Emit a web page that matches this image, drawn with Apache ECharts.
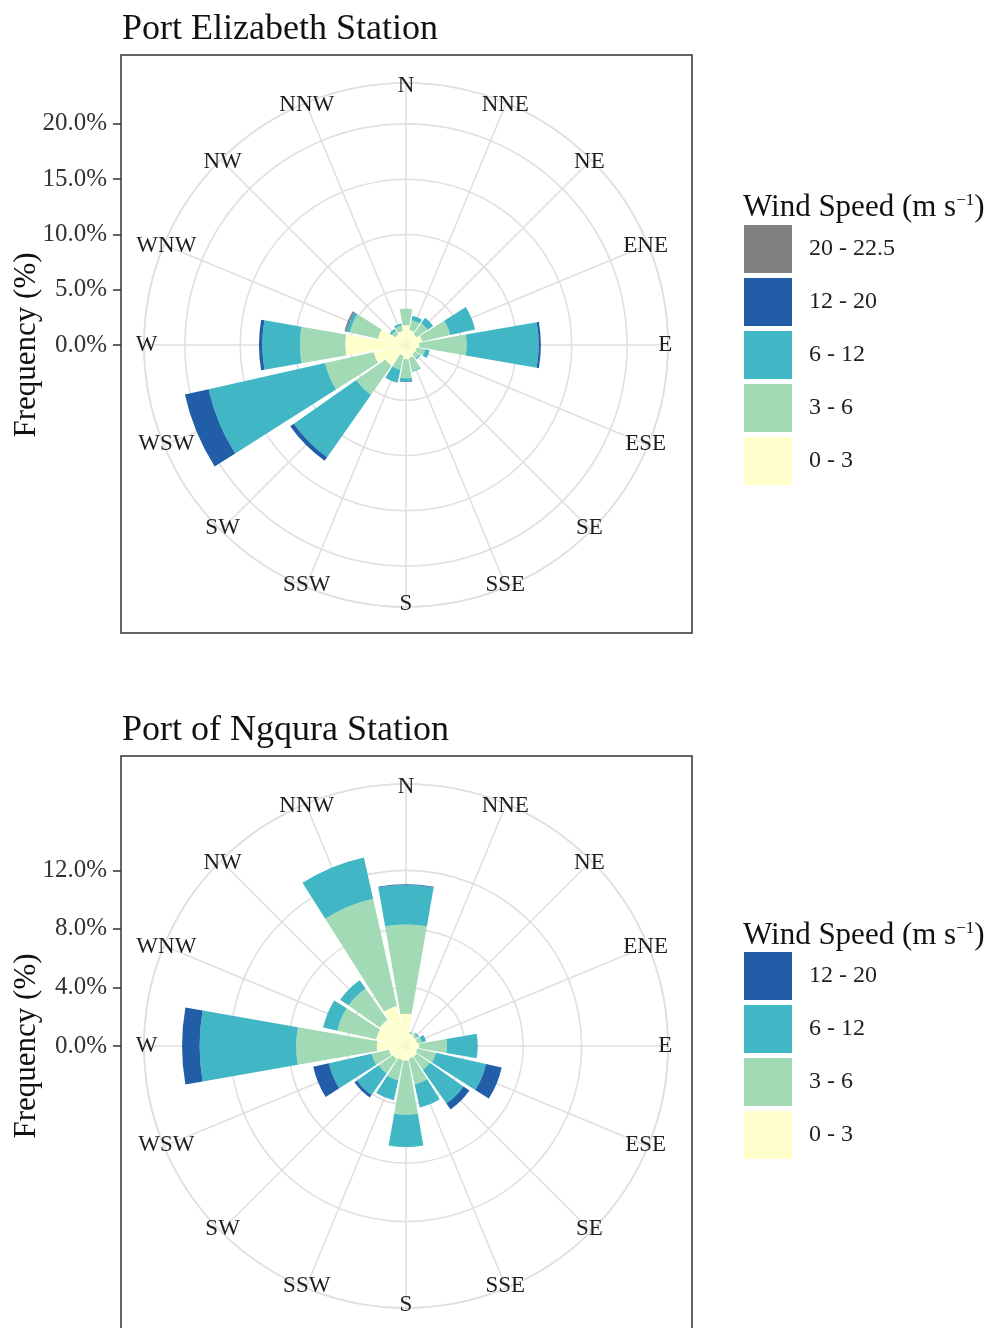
<!DOCTYPE html>
<html><head><meta charset="utf-8">
<script src="https://cdn.jsdelivr.net/npm/echarts@6/dist/echarts.min.js"></script>
<style>html,body{margin:0;padding:0;background:#fff}#c{width:992px;height:1328px}</style>
</head><body><div id="c"></div>
<script>
// ---------- data ----------
const directions = ['N','NNE','NE','ENE','E','ESE','SE','SSE','S','SSW','SW','WSW','W','WNW','NW','NNW'];
const speedBins  = ['0 - 3','3 - 6','6 - 12','12 - 20','20 - 22.5'];

// Port Elizabeth Station (frequency %, per speed bin, N..NNW)
const pe_0_3    = [1.8,1.4,1.2,1.5,1.2,1.0,1.0,1.2,1.3,1.0,2.3,3.0,5.5,2.6,1.2,1.3];
const pe_3_6    = [1.5,0.9,1.2,2.6,4.3,0.8,0.5,1.2,1.7,1.3,3.2,4.5,4.1,2.6,0.4,0.5];
const pe_6_12   = [0.0,0.4,0.6,2.3,6.5,0.4,0.1,0.1,0.3,1.2,6.9,10.8,3.4,0.3,0.2,0.2];
const pe_12_20  = [0,0,0,0,0.2,0,0,0,0.05,0,0.4,2.2,0.3,0.05,0,0];
const pe_20_225 = [0,0,0,0,0,0,0,0,0,0,0,0,0,0.15,0,0];
const peTicks   = [0,5,10,15,20];

// Port of Ngqura Station
const ng_0_3    = [2.2,0.9,0.8,0.8,0.9,0.8,0.9,0.9,1.0,1.0,1.1,1.2,2.0,2.1,2.2,2.8];
const ng_3_6    = [6.1,0.1,0.2,0.3,1.9,1.3,1.1,1.8,3.7,1.4,1.2,1.2,5.5,2.7,2.6,7.5];
const ng_6_12   = [2.7,0.0,0.1,0.3,2.1,3.5,2.8,1.6,2.2,1.4,1.8,3.0,6.6,1.0,0.7,2.9];
const ng_12_20  = [0.05,0,0,0,0,1.1,0.5,0,0,0,0.2,1.1,1.2,0,0,0];
const ngTicks   = [0,4,8,12];

// ---------- style ----------
const FONT = "'Liberation Serif','Times New Roman',serif";
const binColors = ['#FFFFCC','#A1DAB4','#41B6C4','#225EA8','#808080'];
const GRID = '#e0e0e0';
const R = 262;

const plots = [
  {title:'Port Elizabeth Station', cx:406, cy:345, rMax:23.7, ticks:peTicks,
   series:[pe_0_3,pe_3_6,pe_6_12,pe_12_20,pe_20_225], frameTop:55, titleTop:12, legTop:225, legTitleTop:192},
  {title:'Port of Ngqura Station', cx:406, cy:1046, rMax:17.9, ticks:ngTicks,
   series:[ng_0_3,ng_3_6,ng_6_12,ng_12_20], frameTop:756, titleTop:713, legTop:952, legTitleTop:920}
];

const option = {
  animation:false, backgroundColor:'#fff',
  title:[], polar:[], angleAxis:[], radiusAxis:[], grid:[], xAxis:[], yAxis:[], legend:[], series:[], graphic:[]
};

plots.forEach((p, i) => {
  const step = p.ticks[1]-p.ticks[0];
  const tMax = p.ticks[p.ticks.length-1];
  const pxPer = R / p.rMax;
  const circleTicks = [];
  for (let v = 0; v <= p.rMax + 1e-9; v += step) circleTicks.push(v);
  if (circleTicks[circleTicks.length-1] < p.rMax) circleTicks.push(p.rMax);
  const circleColors = circleTicks.map(v => (v <= tMax + 1e-9 || Math.abs(v - p.rMax) < 1e-6) ? GRID : 'rgba(0,0,0,0)');

  option.title.push({text:p.title, left:122, top:p.titleTop, padding:0,
    textStyle:{fontFamily:FONT, fontSize:36, fontWeight:'normal', color:'#111'}});
  option.title.push({text:'{a|Wind Speed (m s}{b|\u22121}{a|)}', left:743, top:p.legTitleTop, padding:0,
    textStyle:{fontWeight:'normal', fontFamily:FONT, fontSize:31,
      rich:{a:{fontFamily:FONT, fontSize:31, fontWeight:'normal', color:'#111'},
            b:{fontFamily:FONT, fontSize:17, fontWeight:'normal', color:'#111', verticalAlign:'top'}}}});

  option.polar.push({center:[p.cx,p.cy], radius:R});
  option.polar.push({center:[p.cx,p.cy], radius:R});
  option.angleAxis.push({polarIndex:2*i, type:'category', data:directions, startAngle:90+11.25, clockwise:true,
    boundaryGap:true,
    axisLine:{show:true, lineStyle:{color:GRID, width:1.6}},
    axisTick:{show:false}, splitLine:{show:false}, splitArea:{show:false}, axisLabel:{show:false}});
  option.angleAxis.push({polarIndex:2*i+1, type:'value', min:0, max:360, interval:22.5, startAngle:90, clockwise:true,
    axisLine:{show:false}, axisTick:{show:false}, axisLabel:{show:false},
    splitLine:{show:true, lineStyle:{color:GRID, width:1.6}}});
  option.radiusAxis.push({polarIndex:2*i, type:'value', min:0, max:p.rMax, interval:step,
    axisLine:{show:false}, axisTick:{show:false}, axisLabel:{show:false},
    splitLine:{show:true, lineStyle:{color:circleColors, width:1.6}}});
  option.radiusAxis.push({polarIndex:2*i+1, type:'value', min:0, max:p.rMax, show:false,
    axisLine:{show:false}, axisTick:{show:false}, axisLabel:{show:false}, splitLine:{show:false}});

  // left radial scale (same px-per-% as polar)
  option.grid.push({left:121, width:10, top:p.cy - tMax*pxPer, height:tMax*pxPer, containLabel:false});
  option.xAxis.push({gridIndex:i, type:'value', show:false});
  option.yAxis.push({gridIndex:i, type:'value', min:p.ticks[0], max:tMax, interval:step, position:'left',
    axisLine:{show:false}, splitLine:{show:false},
    axisTick:{show:true, length:8, lineStyle:{color:'#333', width:1.5}},
    axisLabel:{formatter:v => v.toFixed(1)+'%', fontFamily:FONT, fontSize:25, color:'#333', margin:14}});

  const names = speedBins.slice(0, p.series.length);
  p.series.forEach((arr, k) => {
    option.series.push({type:'bar', coordinateSystem:'polar', polarIndex:2*i, name:speedBins[k],
      stack:'s'+i, data:arr, barCategoryGap:'12%', itemStyle:{color:binColors[k]},
      emphasis:{disabled:true}, z:2});
  });
  // compass direction labels, centred on the outer circle
  option.series.push({type:'scatter', coordinateSystem:'polar', polarIndex:2*i+1, silent:true, z:3,
    symbol:'circle', symbolSize:1, itemStyle:{color:'#ffffff', opacity:0},
    data:directions.map((d, j) => [p.rMax*0.99, j*360/directions.length]),
    label:{show:true, position:'inside', formatter:q => directions[q.dataIndex], opacity:1,
      fontFamily:FONT, fontSize:23, color:'#1e1e1e', textBorderWidth:0}});

  option.legend.push({data:names.slice().reverse(), orient:'vertical', left:744, top:p.legTop, padding:0,
    itemWidth:48, itemHeight:48, itemGap:5, icon:'rect', selectedMode:false,
    textStyle:{fontFamily:FONT, fontSize:24, color:'#222', padding:[0,0,0,12]}});

  option.graphic.push({type:'rect', shape:{x:121, y:p.frameTop, width:571, height:578},
    style:{fill:'none', stroke:'#333', lineWidth:1.5}, z:10});
  option.graphic.push({type:'text', x:27, y:p.cy, rotation:Math.PI/2,
    style:{text:'Frequency (%)', font:'31px '+FONT, fontFamily:FONT, fontSize:31, fill:'#111',
      textAlign:'center', textVerticalAlign:'middle', align:'center', verticalAlign:'middle'}, z:10});
});

const chart = echarts.init(document.getElementById('c'), null, {renderer:'canvas'});
chart.setOption(option);
</script></body></html>
